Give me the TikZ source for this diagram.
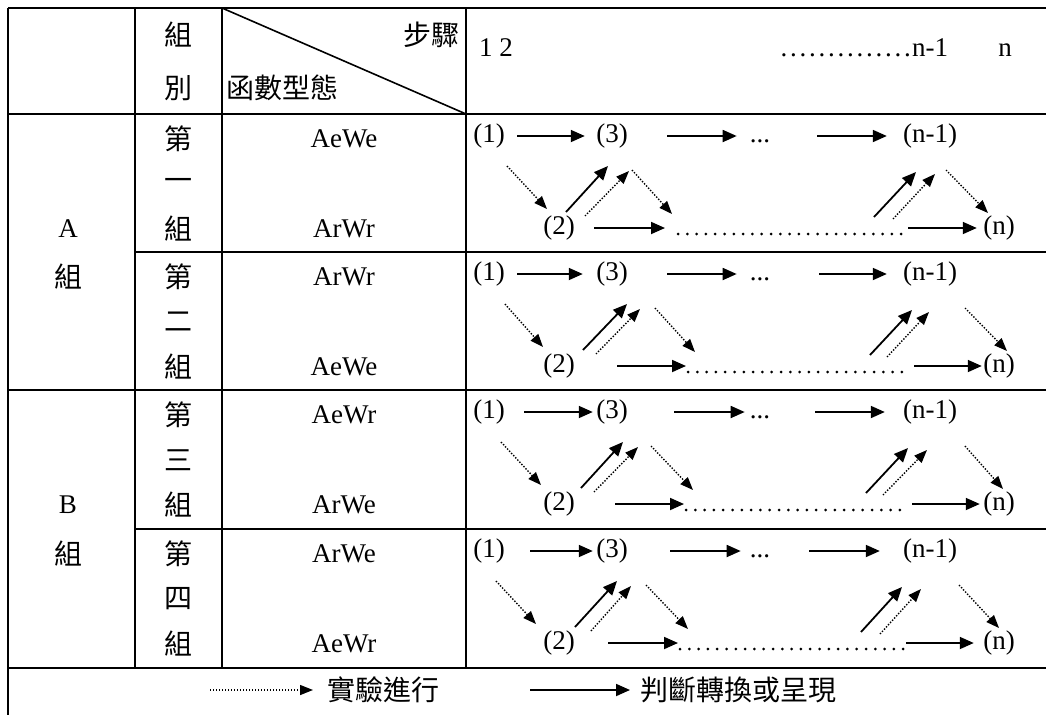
\documentclass[tikz,border=0pt]{standalone}
\usepackage{fontspec}
\setmainfont{Liberation Serif}
\newfontfamily\cjk{Noto Sans CJK TC}
\usetikzlibrary{arrows.meta,calc}
\newcommand\flownodes[2]{%
  \node[lat] (#1one) at (489,#2+22) {(1)};
  \node[lat] (#1three) at (612,#2+22) {(3)};
  \node[lat] (#1dots) at (760,#2+22) {\vphantom{(}...};
  \node[lat] (#1nm) at (930,#2+22) {(n-1)};
  \node[lat] (#1two) at (559,#2+114) {(2)};
  \node[lat] (#1n) at (999,#2+114) {(n)};
}
\begin{document}
\begin{tikzpicture}[x=1pt,y=-1pt,
  rule/.style={line width=1.8pt},
  lat/.style={inner sep=0pt,font=\fontsize{27}{30}\selectfont},
  zh/.style={inner sep=0pt,font=\cjk\fontsize{28}{30}\selectfont},
  solidarr/.style={line width=1.8pt,-{Triangle[length=14pt,width=12pt]}},
  dotarr/.style={line width=1.4pt,dash pattern=on 1.4pt off 1.6pt,-{Triangle[length=13pt,width=10pt]}},
  dotrow/.style={line width=3pt,line cap=round,dash pattern=on 0pt off 9.3pt},
]
\useasboundingbox (0,0) rectangle (1046,715);
% ---- table rules
\draw[rule] (8,8) -- (1046,8);
\draw[rule] (8,114) -- (1046,114);
\draw[rule] (135,252) -- (1046,252);
\draw[rule] (8,390) -- (1046,390);
\draw[rule] (135,529) -- (1046,529);
\draw[rule] (8,668) -- (1046,668);
\draw[rule] (8,8) -- (8,715);
\draw[rule] (135,8) -- (135,668);
\draw[rule] (222,8) -- (222,668);
\draw[rule] (466,8) -- (466,668);
\draw[line width=1.6pt] (222,8) -- (466,114);
% ---- header
\node[zh] (hz) at (178,35) {組};
\node[zh] (hb) at (178,88) {別};
\node[zh,anchor=east] (hstep) at (460,35) {步驟};
\node[zh,anchor=west] (hfun) at (226,88) {函數型態};
\node[lat,anchor=base west] (h12) at (479,56) {1 2};
\node[lat,anchor=base west] (hdots) at (779,56) {\hbox to 133pt{\leaders\hbox to 9.5pt{\hss.\hss}\hfill}n-1};
\node[lat,anchor=base] (hn) at (1005,56) {n};
% ---- left group labels
\node[lat] (gA) at (68,229) {A};
\node[zh] (gAz) at (68,277) {組};
\node[lat] (gB) at (68,505) {B};
\node[zh] (gBz) at (68,554) {組};
% ---- group column
\node[zh] (r1a) at (178,139) {第};
\node[zh] (r1b) at (178,184) {一};
\node[zh] (r1c) at (178,229) {組};
\node[zh] (r2a) at (178,277) {第};
\node[zh] (r2b) at (178,322) {二};
\node[zh] (r2c) at (178,367) {組};
\node[zh] (r3a) at (178,415) {第};
\node[zh] (r3b) at (178,460) {三};
\node[zh] (r3c) at (178,505) {組};
\node[zh] (r4a) at (178,554) {第};
\node[zh] (r4b) at (178,599) {四};
\node[zh] (r4c) at (178,644) {組};
% ---- function types
\node[lat] (f1a) at (344,139) {AeWe};
\node[lat] (f1b) at (344,229) {ArWr};
\node[lat] (f2a) at (344,277) {ArWr};
\node[lat] (f2b) at (344,367) {AeWe};
\node[lat] (f3a) at (344,415) {AeWr};
\node[lat] (f3b) at (344,505) {ArWe};
\node[lat] (f4a) at (344,554) {ArWe};
\node[lat] (f4b) at (344,644) {AeWr};
% ---- row 1
\flownodes{a}{114}
\coordinate (ads) at (678,228); \coordinate (ade) at (902,228);
\draw[solidarr,shorten <=12.3pt,shorten >=11.3pt] (aone) -- (athree);
\draw[solidarr,shorten <=39.3pt,shorten >=13pt] (athree) -- (adots);
\draw[solidarr,shorten <=47pt,shorten >=16pt] (adots) -- (anm);
\draw[solidarr,shorten <=19.3pt,shorten >=13pt] (atwo) -- (ads);
\draw[dotrow] ([yshift=-6pt]ads) -- ([yshift=-6pt]ade);
\draw[solidarr,shorten <=6pt,shorten >=6.3pt] (ade) -- (an);
\draw[dotarr] ($(aone)+(18,30)$) -- ($(atwo)+(-12,-19)$);
\draw[solidarr] ($(atwo)+(7,-16)$) -- ($(athree)+(-4,30)$);
\draw[dotarr] ($(atwo)+(26,-12)$) -- ($(athree)+(17,35)$);
\draw[dotarr] ($(athree)+(20,34)$) -- ($(athree)+(60,78)$);
\draw[solidarr] ($(anm)+(-56,81)$) -- ($(anm)+(-14,36)$);
\draw[dotarr] ($(anm)+(-37,83)$) -- ($(anm)+(5,38)$);
\draw[dotarr] ($(anm)+(16,34)$) -- ($(an)+(-11,-15)$);
% ---- row 2
\flownodes{b}{252}
\coordinate (bds) at (688,366); \coordinate (bde) at (902,366);
\draw[solidarr,shorten <=12.3pt,shorten >=13.3pt] (bone) -- (bthree);
\draw[solidarr,shorten <=39.3pt,shorten >=13pt] (bthree) -- (bdots);
\draw[solidarr,shorten <=49pt,shorten >=16pt] (bdots) -- (bnm);
\draw[solidarr,shorten <=42.3pt,shorten >=2pt] (btwo) -- (bds);
\draw[dotrow] ([yshift=-6pt]bds) -- ([yshift=-6pt]bde);
\draw[solidarr,shorten <=12pt,shorten >=1.3pt] (bde) -- (bn);
\draw[dotarr] ($(bone)+(16,30)$) -- ($(btwo)+(-16,-19)$);
\draw[solidarr] ($(btwo)+(24,-16)$) -- ($(bthree)+(15,30)$);
\draw[dotarr] ($(btwo)+(37,-12)$) -- ($(bthree)+(28,35)$);
\draw[dotarr] ($(bthree)+(43,34)$) -- ($(bthree)+(83,78)$);
\draw[solidarr] ($(bnm)+(-60,81)$) -- ($(bnm)+(-18,36)$);
\draw[dotarr] ($(bnm)+(-43,83)$) -- ($(bnm)+(-1,38)$);
\draw[dotarr] ($(bnm)+(35,34)$) -- ($(bn)+(8,-15)$);
% ---- row 3
\flownodes{c}{390}
\coordinate (cds) at (686,504); \coordinate (cde) at (900,504);
\draw[solidarr,shorten <=19.3pt,shorten >=3.3pt] (cone) -- (cthree);
\draw[solidarr,shorten <=46.3pt,shorten >=5pt] (cthree) -- (cdots);
\draw[solidarr,shorten <=45pt,shorten >=18pt] (cdots) -- (cnm);
\draw[solidarr,shorten <=40.3pt,shorten >=2pt] (ctwo) -- (cds);
\draw[dotrow] ([yshift=-6pt]cds) -- ([yshift=-6pt]cde);
\draw[solidarr,shorten <=12pt,shorten >=3.3pt] (cde) -- (cn);
\draw[dotarr] ($(cone)+(12,30)$) -- ($(ctwo)+(-18,-19)$);
\draw[solidarr] ($(ctwo)+(22,-16)$) -- ($(cthree)+(11,30)$);
\draw[dotarr] ($(ctwo)+(35,-12)$) -- ($(cthree)+(26,35)$);
\draw[dotarr] ($(cthree)+(39,34)$) -- ($(cthree)+(81,78)$);
\draw[solidarr] ($(cnm)+(-64,81)$) -- ($(cnm)+(-22,36)$);
\draw[dotarr] ($(cnm)+(-47,83)$) -- ($(cnm)+(-3,38)$);
\draw[dotarr] ($(cnm)+(35,34)$) -- ($(cn)+(4,-15)$);
% ---- row 4
\flownodes{d}{529}
\coordinate (dds) at (680,643); \coordinate (dde) at (904,643);
\draw[solidarr,shorten <=25.3pt,shorten >=3.3pt] (done) -- (dthree);
\draw[solidarr,shorten <=42.3pt,shorten >=9pt] (dthree) -- (ddots);
\draw[solidarr,shorten <=39pt,shorten >=23pt] (ddots) -- (dnm);
\draw[solidarr,shorten <=33.3pt,shorten >=2pt] (dtwo) -- (dds);
\draw[dotrow] ([yshift=-6pt]dds) -- ([yshift=-6pt]dde);
\draw[solidarr,shorten <=2pt,shorten >=9.3pt] (dde) -- (dn);
\draw[dotarr] ($(done)+(7,30)$) -- ($(dtwo)+(-23,-19)$);
\draw[solidarr] ($(dtwo)+(16,-16)$) -- ($(dthree)+(5,30)$);
\draw[dotarr] ($(dtwo)+(32,-12)$) -- ($(dthree)+(19,35)$);
\draw[dotarr] ($(dthree)+(34,34)$) -- ($(dthree)+(76,78)$);
\draw[solidarr] ($(dnm)+(-69,81)$) -- ($(dnm)+(-28,36)$);
\draw[dotarr] ($(dnm)+(-50,83)$) -- ($(dnm)+(-9,38)$);
\draw[dotarr] ($(dnm)+(29,34)$) -- ($(dn)+(0,-15)$);
% ---- legend
\coordinate (lg1) at (210,690);
\node[zh,anchor=west] (lgt1) at (327,690) {實驗進行};
\draw[dotarr,shorten >=14pt] (lg1) -- (lgt1.west);
\coordinate (lg2) at (530,690);
\node[zh,anchor=west] (lgt2) at (640,690) {判斷轉換或呈現};
\draw[solidarr,shorten >=10pt] (lg2) -- (lgt2.west);
\end{tikzpicture}
\end{document}
